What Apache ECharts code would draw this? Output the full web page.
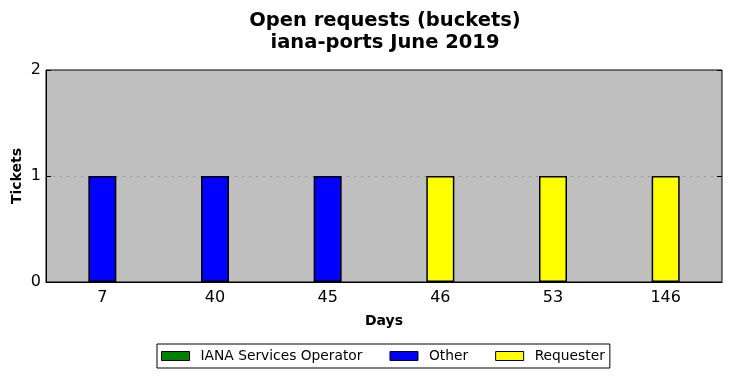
<!DOCTYPE html>
<html>
<head>
<meta charset="utf-8">
<script src="https://cdn.jsdelivr.net/npm/echarts@6/dist/echarts.min.js"></script>
<style>
html, body { margin: 0; padding: 0; background: #fff; }
#chart { width: 731px; height: 378px; }
</style>
</head>
<body>
<div id="chart"></div>
<script>
// categories (days open) and tickets per bucket
var days = ['7', '40', '45', '46', '53', '146'];
var ianaOperator = ['-', '-', '-', '-', '-', '-'];
var other = [1, 1, 1, '-', '-', '-'];
var requester = ['-', '-', '-', 1, 1, 1];

var myChart = echarts.init(document.getElementById('chart'));
var font = 'DejaVu Sans';

function barSeries(name, color, data) {
    return {
        name: name,
        type: 'bar',
        stack: 'total',
        barWidth: 28,
        data: data,
        itemStyle: { color: color, borderColor: '#000', borderWidth: 1.5 }
    };
}

var option = {
    animation: false,
    textStyle: { fontFamily: font },
    title: {
        text: 'Open requests (buckets)\niana-ports June 2019',
        left: 380,
        textAlign: 'center',
        top: 5,
        textStyle: { fontFamily: font, fontSize: 19.5, fontWeight: 'bold', color: '#000', lineHeight: 22 }
    },
    legend: {
        bottom: 10,
        left: 157,
        icon: 'rect',
        itemWidth: 28,
        itemHeight: 9,
        itemGap: 27,
        padding: [5, 5, 5, 4],
        borderColor: '#000',
        borderWidth: 1,
        backgroundColor: '#fff',
        textStyle: { fontFamily: font, fontSize: 13.8, color: '#000', padding: [0, 0, 0, 6] },
        itemStyle: { borderColor: '#000', borderWidth: 1 },
        data: ['IANA Services Operator', 'Other', 'Requester']
    },
    grid: {
        left: 46,
        right: 9,
        top: 70,
        bottom: 96,
        outerBoundsMode: 'none',
        show: true,
        backgroundColor: '#bfbfbf',
        borderColor: '#000',
        borderWidth: 1
    },
    xAxis: [{
        type: 'category',
        data: days,
        name: 'Days',
        nameLocation: 'middle',
        nameGap: 32,
        nameTextStyle: { fontFamily: font, fontSize: 14, fontWeight: 'bold', color: '#000' },
        axisLine: { lineStyle: { color: '#000' } },
        axisTick: { inside: true, alignWithLabel: true, length: 5, lineStyle: { color: '#000' } },
        axisLabel: { fontFamily: font, fontSize: 16, color: '#000', margin: 8 }
    }, {
        type: 'category',
        data: days,
        position: 'top',
        axisLine: { show: false },
        axisTick: { inside: true, alignWithLabel: true, length: 5, lineStyle: { color: '#000' } },
        axisLabel: { show: false }
    }],
    yAxis: [{
        type: 'value',
        min: 0,
        max: 2,
        interval: 1,
        name: 'Tickets',
        nameLocation: 'middle',
        nameGap: 22,
        nameMoveOverlap: false,
        nameTextStyle: { fontFamily: font, fontSize: 14, fontWeight: 'bold', color: '#000' },
        axisLine: { show: true, lineStyle: { color: '#000' } },
        axisTick: { show: true, inside: true, length: 5, lineStyle: { color: '#000' } },
        axisLabel: { fontFamily: font, fontSize: 16, color: '#000', margin: 5 },
        splitLine: { show: true, showMinLine: false, showMaxLine: false, lineStyle: { color: '#999', type: [2, 5], width: 1 } }
    }, {
        type: 'value',
        min: 0,
        max: 2,
        interval: 1,
        position: 'right',
        axisLine: { show: false },
        axisTick: { show: true, inside: true, length: 5, lineStyle: { color: '#000' } },
        axisLabel: { show: false },
        splitLine: { show: false }
    }],
    series: [
        barSeries('IANA Services Operator', '#008000', ianaOperator),
        barSeries('Other', '#0000ff', other),
        barSeries('Requester', '#ffff00', requester)
    ]
};

myChart.setOption(option);
</script>
</body>
</html>
